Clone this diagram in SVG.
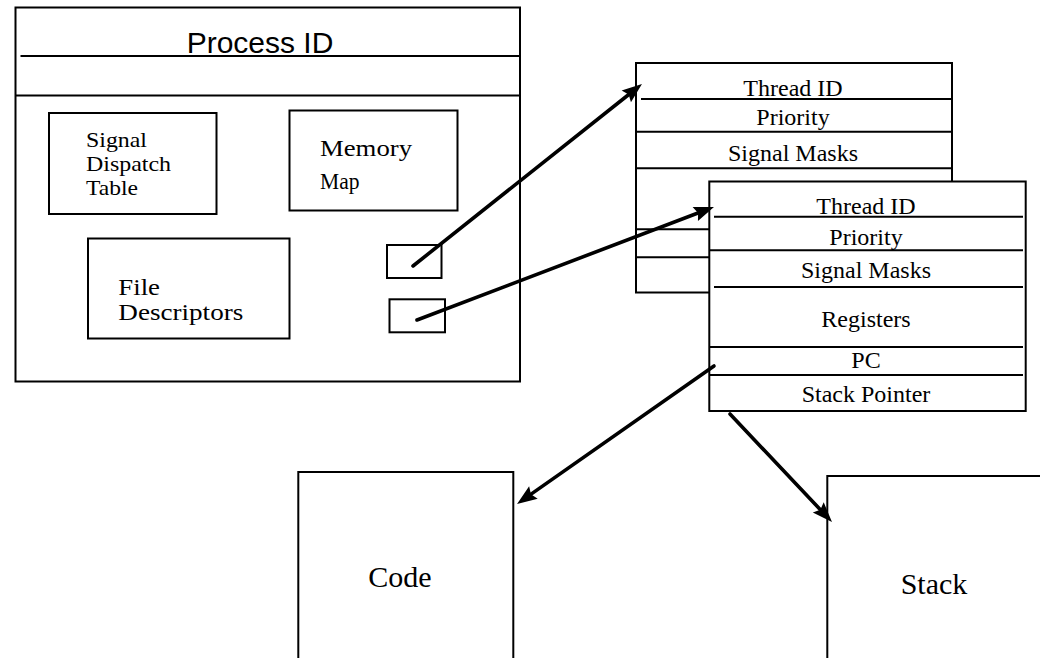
<svg xmlns="http://www.w3.org/2000/svg" width="1040" height="658" viewBox="0 0 1040 658">
<style>
.box{fill:#fff;stroke:#000;stroke-width:2}
.ln{stroke:#000;stroke-width:2;fill:none}
.serif{font-family:"Liberation Serif","Times New Roman",serif;fill:#000}
.sans{font-family:"Liberation Sans",Arial,sans-serif;fill:#000}
.t24{font-size:24px;text-anchor:middle}
.arrow{stroke:#000;stroke-width:3.6;fill:none;stroke-linecap:round;marker-end:url(#ah)}
</style>
<defs>
<marker id="ah" markerUnits="userSpaceOnUse" viewBox="-14 -8 24 16" markerWidth="24" markerHeight="16" refX="0" refY="0" orient="auto">
<path d="M8,0 L-12,-7.5 L-9,0 L-12,7.5 Z" fill="#000"/>
</marker>
</defs>
<rect width="1040" height="658" fill="#fff"/>

<g id="process">
<rect class="box" x="15.5" y="7.5" width="504.5" height="374"/>
<line class="ln" x1="20.5" y1="56" x2="520" y2="56"/>
<line class="ln" x1="15.5" y1="95.5" x2="520" y2="95.5"/>
<text class="sans" x="260" y="52.5" font-size="30" text-anchor="middle">Process ID</text>
</g>

<g id="signal-dispatch-table">
<rect class="box" x="49" y="113" width="167.5" height="101"/>
<text class="serif" font-size="22"><tspan x="86" y="146.7" textLength="61" lengthAdjust="spacingAndGlyphs">Signal</tspan><tspan x="86" y="170.7" textLength="85" lengthAdjust="spacingAndGlyphs">Dispatch</tspan><tspan x="86" y="195" textLength="52" lengthAdjust="spacingAndGlyphs">Table</tspan></text>
</g>

<g id="memory-map">
<rect class="box" x="289.5" y="110.5" width="168" height="100"/>
<text class="serif" font-size="24"><tspan x="320" y="155.7" textLength="92" lengthAdjust="spacingAndGlyphs">Memory</tspan><tspan x="320" y="189.3" textLength="39.5" lengthAdjust="spacingAndGlyphs">Map</tspan></text>
</g>

<g id="file-descriptors">
<rect class="box" x="88" y="238.5" width="201.5" height="100"/>
<text class="serif" font-size="23"><tspan x="118.3" y="295" textLength="41.7" lengthAdjust="spacingAndGlyphs">File</tspan><tspan x="118.3" y="320" textLength="125" lengthAdjust="spacingAndGlyphs">Descriptors</tspan></text>
</g>

<g id="thread-ptr-1">
<rect class="box" x="387" y="245" width="54.5" height="33"/>
</g>
<g id="thread-ptr-2">
<rect class="box" x="389.5" y="299.3" width="55.5" height="33"/>
</g>

<g id="thread-1">
<rect class="box" x="636" y="63" width="316" height="229.5"/>
<line class="ln" x1="641" y1="99" x2="951" y2="99"/>
<line class="ln" x1="636" y1="131.7" x2="951" y2="131.7"/>
<line class="ln" x1="636" y1="168.3" x2="951" y2="168.3"/>
<line class="ln" x1="636" y1="229.3" x2="951" y2="229.3"/>
<line class="ln" x1="636" y1="257.3" x2="951" y2="257.3"/>
<text class="serif t24" x="793" y="96">Thread ID</text>
<text class="serif t24" x="793" y="125.3">Priority</text>
<text class="serif t24" x="793" y="161">Signal Masks</text>
</g>

<g id="thread-2">
<rect class="box" x="709.3" y="181.5" width="316.4" height="229.5"/>
<line class="ln" x1="714" y1="216.7" x2="1023" y2="216.7"/>
<line class="ln" x1="709.3" y1="250.3" x2="1023" y2="250.3"/>
<line class="ln" x1="714" y1="287" x2="1023" y2="287"/>
<line class="ln" x1="709.3" y1="347" x2="1023" y2="347"/>
<line class="ln" x1="709.3" y1="375" x2="1023" y2="375"/>
<text class="serif t24" x="866" y="214">Thread ID</text>
<text class="serif t24" x="866" y="244.5">Priority</text>
<text class="serif t24" x="866" y="277.7">Signal Masks</text>
<text class="serif t24" x="866" y="326.7">Registers</text>
<text class="serif t24" x="866" y="368.3">PC</text>
<text class="serif t24" x="866" y="402.3">Stack Pointer</text>
</g>

<g id="code">
<rect class="box" x="298.3" y="472" width="215" height="200"/>
<text class="serif" x="368.3" y="587.3" font-size="30">Code</text>
</g>

<g id="stack">
<rect class="box" x="827.3" y="476" width="230" height="200"/>
<text class="serif" x="900.7" y="594" font-size="30">Stack</text>
</g>

<g id="connectors">
<path class="arrow" d="M413,266 L635.7,89"/>
<path class="arrow" d="M417,320 L706.5,209.8"/>
<path class="arrow" d="M714,366 L523.6,499.4"/>
<path class="arrow" d="M730,414 L826.5,516.2"/>
</g>
</svg>
